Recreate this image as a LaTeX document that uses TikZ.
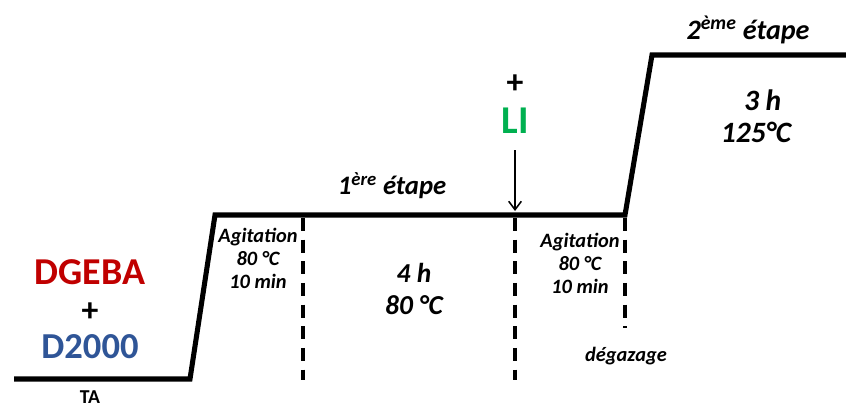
\documentclass[tikz,border=0pt]{standalone}
\usepackage{fontspec}
\setmainfont{Carlito}
\usetikzlibrary{arrows.meta}
\definecolor{dgebared}{HTML}{C00000}
\definecolor{dblue}{HTML}{2F5597}
\definecolor{ligreen}{HTML}{00B050}
\tikzset{
  profil/.style={line width=3.6pt,line join=miter},
  repere/.style={line width=2.6pt,dash pattern=on 9.2pt off 6.2pt},
  lbl/.style={font=\bfseries\itshape\fontsize{14.5}{16.4}\selectfont,align=center,inner sep=0pt},
  etape/.style={font=\bfseries\itshape\fontsize{19}{21}\selectfont,inner sep=0pt},
}
\begin{document}
\begin{tikzpicture}[x=0.025cm,y=-0.025cm]
\useasboundingbox (0,0) rectangle (846,408);
% temperature profile
\coordinate (p0) at (14,379);
\coordinate (p1) at (190,379);
\coordinate (p2) at (215,215);
\coordinate (p3) at (625,215);
\coordinate (p4) at (652,55);
\coordinate (p5) at (846,55);
\draw[profil] (p0) -- (p1) -- (p2) -- (p3) -- (p4) -- (p5);
% stage limits
\draw[repere] (303,218) -- (303,380);
\draw[repere] (515,218) -- (515,380);
\draw[repere,dash pattern=on 9.2pt off 6.2pt on 9.2pt off 6.2pt on 9.2pt off 6.2pt on 9.2pt off 6.2pt on 9.2pt off 6.2pt on 1.5pt off 20pt] (625,218) -- (625,340);
% starting mixture
\node[font=\bfseries\fontsize{27}{29}\selectfont,text=dgebared,inner sep=0pt] (dgeba) at (90,272) {DGEBA};
\node[font=\bfseries\fontsize{24}{26}\selectfont,inner sep=0pt] (plusa) at (90,312) {+};
\node[font=\bfseries\fontsize{26}{28}\selectfont,text=dblue,inner sep=0pt] (d2000) at (90,347) {D2000};
\node[font=\bfseries\fontsize{14}{16}\selectfont,inner sep=0pt] (ta) at (90,397) {TA};
% first stage
\node[lbl] (agit1) at (258,258) {Agitation\\80 °C\\10 min};
\node[etape] (etape1) at (392,186) {1\textsuperscript{ère} étape};
\node[lbl,font=\bfseries\itshape\fontsize{19.5}{23.4}\selectfont] (cond1) at (414,289) {4 h\\80 °C};
% ionic liquid
\node[font=\bfseries\fontsize{24}{26}\selectfont,inner sep=0pt] (plusb) at (515,84) {+};
\node[font=\bfseries\fontsize{28}{30}\selectfont,text=ligreen,inner sep=0pt] (li) at (515,121) {LI};
\coordinate (liin) at (515,211);
\draw[-{Straight Barb[length=6pt,width=9pt]},line width=1.1pt] (515,150) -- (liin);
\node[lbl] (agit2) at (580,263) {Agitation\\80 °C\\10 min};
\node[lbl] (degaz) at (626,356) {dégazage};
% second stage
\node[etape,font=\bfseries\itshape\fontsize{20}{22}\selectfont] (etape2) at (748,30) {2\textsuperscript{ème} étape};
\node[lbl,font=\bfseries\itshape\fontsize{21}{22.7}\selectfont] (cond2) at (756,116) {\ \ 3 h\\125°C};
\end{tikzpicture}
\end{document}
